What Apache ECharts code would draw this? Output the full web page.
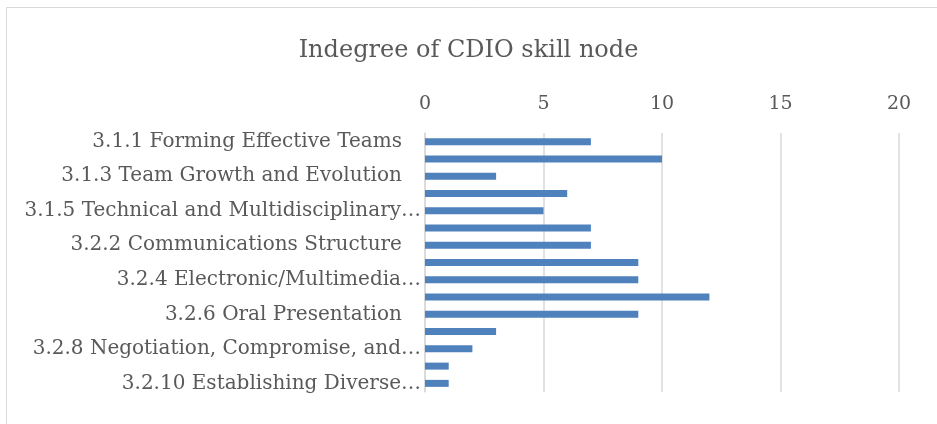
<!DOCTYPE html>
<html><head><meta charset="utf-8">
<script src="https://cdn.jsdelivr.net/npm/echarts@6/dist/echarts.min.js"></script>
<style>html,body{margin:0;padding:0;background:#fff}#c{width:937px;height:424px}</style>
</head><body><div id="c"></div>
<script>
const categories = [
  "3.1.1 Forming Effective Teams",
  "3.1.2 Team Operation",
  "3.1.3 Team Growth and Evolution",
  "3.1.4 Leadership",
  "3.1.5 Technical and Multidisciplinary Teaming",
  "3.2.1 Communications Strategy",
  "3.2.2 Communications Structure",
  "3.2.3 Written Communication",
  "3.2.4 Electronic/Multimedia Communication",
  "3.2.5 Graphical Communication",
  "3.2.6 Oral Presentation",
  "3.2.7 Inquiry, Listening and Dialog",
  "3.2.8 Negotiation, Compromise, and Conflict Resolution",
  "3.2.9 Advocacy",
  "3.2.10 Establishing Diverse Connections and Networking"
];
const indegree = [7, 10, 3, 6, 5, 7, 7, 9, 9, 12, 9, 3, 2, 1, 1];
const titleText = "Indegree of CDIO skill node";

const FONT = "DejaVu Serif";
const LABEL_SIZE = 20;
const MAX_W = 400;
const ctx = document.createElement('canvas').getContext('2d');
ctx.font = LABEL_SIZE + 'px "' + FONT + '"';
function fitLabel(v) {
  if (ctx.measureText(v).width <= MAX_W - 18) return v + '   ';
  const words = v.split(' ');
  while (words.length > 1) {
    words.pop();
    const t = words.join(' ') + '…';
    if (ctx.measureText(t).width <= MAX_W) return t;
  }
  return words[0] + '…';
}

const chart = echarts.init(document.getElementById('c'), null, {renderer: 'canvas'});
chart.setOption({
  animation: false,
  backgroundColor: '#fff',
  graphic: [{
    type: 'rect', shape: {x: 6.5, y: 7.5, width: 940, height: 430},
    style: {fill: 'none', stroke: '#d9d9d9', lineWidth: 1}, silent: true
  }],
  title: {
    text: titleText, left: 'center', top: 34,
    textStyle: {fontFamily: FONT, fontSize: 24, fontWeight: 'normal', color: '#595959'}
  },
  grid: {left: 425, right: 38, top: 133, bottom: 32, containLabel: false},
  xAxis: {
    type: 'value', position: 'top', min: 0, max: 20, interval: 5,
    axisLine: {show: false}, axisTick: {show: false},
    axisLabel: {fontFamily: FONT, fontSize: 19, color: '#595959', margin: 19},
    splitLine: {lineStyle: {color: '#d9d9d9', width: 1.5}}
  },
  yAxis: {
    type: 'category', data: categories, inverse: true,
    axisLine: {lineStyle: {color: '#d9d9d9', width: 1.5}},
    axisTick: {show: false},
    axisLabel: {
      interval: 1, fontFamily: FONT, fontSize: LABEL_SIZE, color: '#595959', margin: 4,
      formatter: v => fitLabel(v)
    }
  },
  series: [{
    type: 'bar', data: indegree, barWidth: 7,
    itemStyle: {color: '#4f81bd'}
  }]
});
</script></body></html>
